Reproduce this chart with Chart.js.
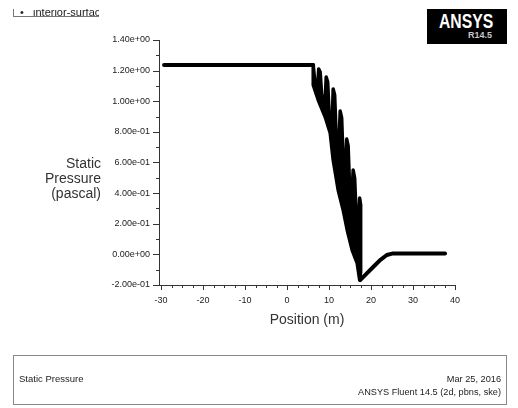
<!DOCTYPE html>
<html>
<head>
<meta charset="utf-8">
<script src="https://cdn.jsdelivr.net/npm/chart.js@4/dist/chart.umd.min.js"></script>
<style>
    body { margin: 0; background: #fff; font-family: "Liberation Sans", Arial, sans-serif; }
    #page { position: relative; width: 518px; height: 408px; overflow: hidden; background: #fff; }
    #chart { position: absolute; left: 0; top: 0; }
    .abs { position: absolute; white-space: nowrap; }
    #legend { left: 13px; top: 9px; width: 85px; height: 7px; border-left: 1px solid #777; border-bottom: 1px solid #777; overflow: hidden; }
    #legend span { position: absolute; left: 6px; top: -2px; font-size: 11px; line-height: 11px; color: #222; }
    #logo { left: 427px; top: 9px; width: 80px; height: 35px; background: #000; }
    #logo .big { position: absolute; left: 12px; top: 1px; font-size: 21px; line-height: 21px; font-weight: bold; color: #fff; transform: scaleX(0.75); transform-origin: left top; }
    #logo .ver { position: absolute; right: 15px; top: 22px; font-size: 9px; line-height: 9px; color: #c8c8c8; font-weight: bold; }
    #ytitle { left: 0; top: 156px; width: 101px; text-align: right; font-size: 14px; line-height: 15px; color: #333; }
    #xtitle { left: 207px; top: 311px; width: 200px; text-align: center; font-size: 14px; line-height: 16px; color: #333; }
    #footer { left: 13px; top: 355px; width: 492px; height: 48px; border: 1px solid #888; }
    #footer .l { position: absolute; left: 5px; top: 18px; font-size: 9.5px; line-height: 10px; color: #222; }
    #footer .r { position: absolute; right: 5px; font-size: 9.2px; line-height: 10px; color: #222; text-align: right; }
</style>
</head>
<body>
<div id="page">
    <canvas id="chart" width="518" height="408"></canvas>
    <div class="abs" id="legend"><span>&bull;&nbsp;&nbsp;&nbsp;interior-surface</span></div>
    <div class="abs" id="logo"><span class="big">ANSYS</span><span class="ver">R14.5</span></div>
    <div class="abs" id="ytitle">Static<br>Pressure<br>(pascal)</div>
    <div class="abs" id="xtitle">Position (m)</div>
    <div class="abs" id="footer">
        <span class="l">Static Pressure</span>
        <span class="r" style="top:18px">Mar 25, 2016</span>
        <span class="r" style="top:31px">ANSYS Fluent 14.5 (2d, pbns, ske)</span>
    </div>
</div>
<script>
// Upstream plateau
const inletX = [-29.3, 6.23];
const inletP = [1.237, 1.237];

// Oscillating drop: top edge (sawtooth spikes) then bottom edge back to start
const bandTopX = [6.23, 6.58, 7.30, 7.54, 7.89, 8.25, 9.08, 9.32, 9.68, 10.03, 10.75, 10.98, 11.34, 11.70, 12.41, 12.65, 13.01, 13.36, 13.96, 14.20, 14.55, 14.91, 15.50, 15.74, 16.10, 16.46, 17.05, 17.29, 17.53, 17.53, 17.29];
const bandTopP = [1.237, 1.139, 1.100, 1.211, 1.191, 1.041, 1.008, 1.158, 1.126, 0.910, 0.864, 1.080, 1.041, 0.779, 0.747, 0.936, 0.891, 0.616, 0.584, 0.753, 0.708, 0.433, 0.407, 0.551, 0.499, 0.257, 0.224, 0.368, 0.322, -0.115, -0.168];
const bandLowX = [16.69, 15.50, 14.32, 13.36, 12.17, 10.98, 10.27, 9.08, 7.42, 6.23, 6.23];
const bandLowP = [-0.057, 0.028, 0.159, 0.290, 0.420, 0.616, 0.793, 0.897, 1.008, 1.106, 1.237];

// Recovery downstream
const wakeX = [17.41, 19.0, 20.57, 22.16, 23.76, 25.02, 37.63];
const wakeP = [-0.168, -0.124, -0.081, -0.037, -0.004, 0.005, 0.005];

const xTicks = [-30, -20, -10, 0, 10, 20, 30, 40];
const yTicks = [-0.2, 0, 0.2, 0.4, 0.6, 0.8, 1.0, 1.2, 1.4];

const toPoints = (xs, ys) => xs.map((x, i) => ({ x: x, y: ys[i] }));

// ANSYS style exponent labels, e.g. 1.40e+00
const sci = (v) => {
    if (Math.abs(v) < 1e-12) return '0.00e+00';
    const e = Math.floor(Math.log10(Math.abs(v)) + 1e-9);
    const m = (v / Math.pow(10, e)).toFixed(2);
    return m + 'e' + (e < 0 ? '-' : '+') + String(Math.abs(e)).padStart(2, '0');
};

// Major and minor tick marks drawn outside the axes
const axisTicks = {
    id: 'axisTicks',
    afterDraw(chart) {
        const ctx = chart.ctx;
        const xs = chart.scales.x;
        const ys = chart.scales.y;
        ctx.save();
        ctx.strokeStyle = '#333';
        ctx.lineWidth = 1;
        ctx.beginPath();
        for (let i = 0; i <= 28; i++) {
            const v = -30 + i * 2.5;
            const px = Math.round(xs.getPixelForValue(v)) + 0.5;
            const len = i % 4 === 0 ? 5 : 3;
            ctx.moveTo(px, xs.top);
            ctx.lineTo(px, xs.top + len);
        }
        for (let i = 0; i <= 16; i++) {
            const v = -0.2 + i * 0.1;
            const py = Math.round(ys.getPixelForValue(v)) + 0.5;
            const len = i % 2 === 0 ? 6 : 3;
            ctx.moveTo(ys.right, py);
            ctx.lineTo(ys.right - len, py);
        }
        ctx.stroke();
        ctx.restore();
    }
};

const lineStyle = {
    showLine: true,
    pointRadius: 0,
    borderColor: '#000',
    borderWidth: 4,
    borderCapStyle: 'round',
    borderJoinStyle: 'round',
    fill: false
};

new Chart(document.getElementById('chart'), {
    type: 'scatter',
    data: {
        datasets: [
            {
                ...lineStyle,
                label: 'band',
                data: toPoints(bandTopX.concat(bandLowX), bandTopP.concat(bandLowP)),
                borderWidth: 3.5,
                backgroundColor: '#000',
                fill: 'shape'
            },
            { ...lineStyle, label: 'inlet', data: toPoints(inletX, inletP) },
            { ...lineStyle, label: 'wake', data: toPoints(wakeX, wakeP) }
        ]
    },
    options: {
        responsive: false,
        animation: false,
        layout: { padding: { left: 0, top: 40, right: 63, bottom: 0 } },
        plugins: {
            legend: { display: false },
            tooltip: { enabled: false }
        },
        scales: {
            x: {
                type: 'linear',
                min: -30.5,
                max: 40,
                afterFit: (scale) => { scale.height = 123; },
                afterBuildTicks: (scale) => { scale.ticks = xTicks.map(v => ({ value: v })); },
                grid: { drawOnChartArea: false, drawTicks: false },
                border: { display: true, color: '#333', width: 1 },
                ticks: {
                    padding: 10,
                    color: '#222',
                    font: { family: '"Liberation Sans", Arial', size: 9 },
                    maxRotation: 0,
                    callback: (v) => String(v)
                }
            },
            y: {
                type: 'linear',
                min: -0.2,
                max: 1.4,
                afterFit: (scale) => { scale.width = 159; },
                afterBuildTicks: (scale) => { scale.ticks = yTicks.map(v => ({ value: v })); },
                grid: { drawOnChartArea: false, drawTicks: false },
                border: { display: true, color: '#333', width: 1 },
                ticks: {
                    padding: 9,
                    color: '#222',
                    font: { family: '"Liberation Sans", Arial', size: 9 },
                    callback: (v) => sci(v)
                }
            }
        }
    },
    plugins: [axisTicks]
});
</script>
</body>
</html>
